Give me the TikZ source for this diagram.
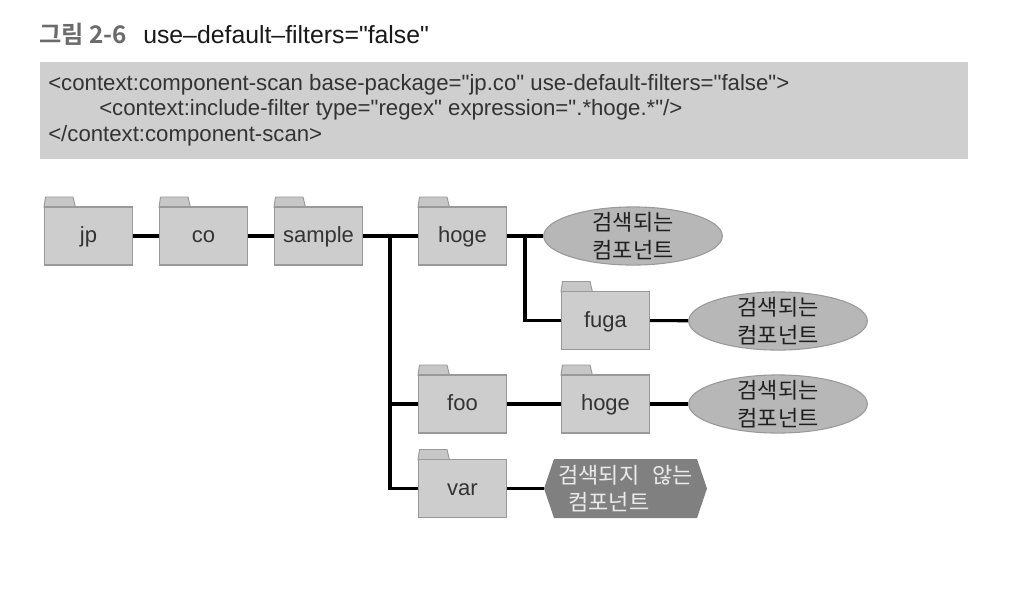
\documentclass[tikz,border=0pt]{standalone}
\usepackage{fontspec}
\setmainfont[Ligatures=TeXOff]{Liberation Sans}
\newfontfamily\krfont{Noto Sans CJK KR}
\newfontfamily\krbold{Noto Sans CJK KR Bold}
\usetikzlibrary{shapes.geometric,calc}
\definecolor{panelgray}{HTML}{CFCFCF}
\definecolor{foldergray}{HTML}{CDCDCD}
\definecolor{edgegray}{HTML}{999999}
\definecolor{ellipsegray}{HTML}{B7B7B7}
\definecolor{hexgray}{HTML}{808080}
\definecolor{inkgray}{HTML}{333333}
\tikzset{
  x=0.75pt,y=-0.75pt,
  folderbox/.style={rectangle,draw=edgegray,line width=0.9pt,fill=foldergray,minimum width=66.2pt,minimum height=43.6pt,inner sep=0pt,text height=13pt,text depth=3pt,font=\fontsize{16.5}{18}\selectfont,text=inkgray},
  foldertab/.style={draw=edgegray,line width=0.7pt,fill=foldergray!97!black,line join=round},
  found/.style={ellipse,draw=edgegray,line width=0.8pt,fill=ellipsegray,minimum width=134pt,minimum height=43.6pt,inner sep=0pt},
  foundtext/.style={inner sep=0pt,align=center,font=\krfont\fontsize{16.5}{20.5}\selectfont,text=black!88},
  wire/.style={line width=2.3pt,black,line cap=butt,line join=miter},
  panel/.style={rectangle,fill=panelgray,draw=none,inner sep=0pt,minimum width=696pt,minimum height=72.5pt},
  codeline/.style={anchor=base west,inner sep=0pt,font=\fontsize{16.65}{18}\selectfont,text=inkgray}
}
\newcommand{\foldernode}[4]{%
  \path[foldertab] (#2-44.5,#3-28.5) -- (#2-43,#3-39) -- (#2-15.5,#3-39) -- (#2-13,#3-28.5) -- cycle;
  \node[folderbox] (#1) at (#2,#3) {#4};
}
\begin{document}
\begin{tikzpicture}
\useasboundingbox (0,0) rectangle (1022,594);
\fill[white] (0,0) rectangle (1022,594);
% title
\node[anchor=base west,inner sep=0pt,font=\krbold\fontsize{18.2}{20}\selectfont,text=black!58] (figno) at (39,43) {그림 2-6};
\node[anchor=base west,inner sep=0pt,font=\fontsize{18.6}{20}\selectfont,text=black!90] (figtitle) at (143,43) {use–default–filters="false"};
% code panel
\node[panel,anchor=north west] (codepanel) at (40,62) {};
\node[codeline] (l1) at (48,90) {<context:component-scan base-package="jp.co" use-default-filters="false">};
\node[codeline] (l2) at (99,115.5) {<context:include-filter type="regex" expression=".*hoge.*"/>};
\node[codeline] (l3) at (48,141) {</context:component-scan>};
% folders
\foldernode{jp}{88.5}{236}{jp}
\foldernode{co}{203.5}{236}{co}
\foldernode{sample}{318.5}{236}{sample}
\foldernode{hogeA}{462.5}{236}{hoge}
\foldernode{fuga}{605.5}{320.5}{fuga}
\foldernode{foo}{462.5}{404}{foo}
\foldernode{hogeB}{605.5}{404}{hoge}
\foldernode{var}{462.5}{488.5}{var}
% results
\node[found,label={[foundtext]center:검색되는\\컴포넌트}] (compA) at (633,236) {};
\node[found,label={[foundtext]center:검색되는\\컴포넌트}] (compB) at (778,321) {};
\node[found,label={[foundtext]center:검색되는\\컴포넌트}] (compC) at (778,404) {};
\path[fill=hexgray] (544,488.5) -- (554,459) -- (697,459) -- (707,488.5) -- (697,518) -- (554,518) -- cycle;
\node[inner sep=0pt,align=center,font=\krfont\fontsize{16.5}{20.5}\selectfont,text=white!92!black] (compD) at (625.5,488.5) {검색되지\hspace{6pt} 않는\\\hspace*{-25pt}컴포넌트};
\coordinate (hexw) at (544,488.5);
% connectors
\coordinate (busA) at (390,236);
\coordinate (busB) at (525,236);
\draw[wire] (jp) -- (co);
\draw[wire] (co) -- (sample);
\draw[wire] (sample) -- (hogeA);
\draw[wire] (hogeA) -- (compA);
\draw[wire] (busA) |- (foo);
\draw[wire] (busA) |- (var);
\draw[wire] (busB) |- (fuga);
\draw[wire] (fuga) -- (compB);
\draw[wire] (foo) -- (hogeB);
\draw[wire] (hogeB) -- (compC);
\draw[wire] (var) -- (hexw);
\end{tikzpicture}
\end{document}
